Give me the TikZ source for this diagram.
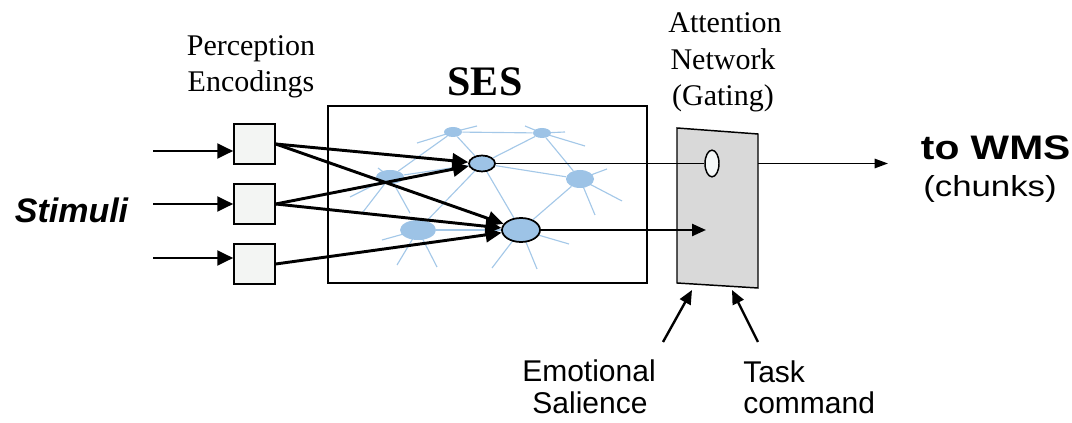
\documentclass[tikz,border=0pt]{standalone}
\usepackage{fontspec}
\usepackage{graphicx}
\setmainfont{Liberation Serif}
\setsansfont{Liberation Sans}
\usetikzlibrary{arrows.meta,shapes.geometric,backgrounds}
\definecolor{nodeblue}{HTML}{9DC3E6}
\definecolor{linkblue}{HTML}{A4C8E8}
\definecolor{gategray}{HTML}{D9D9D9}
\definecolor{boxfill}{HTML}{F3F5F3}
\definecolor{gateoval}{HTML}{F5F8F8}
\begin{document}
\begin{tikzpicture}[x=0.75pt,y=-0.75pt,
  serif/.style={font=\fontsize{22.5}{27}\selectfont, anchor=base, inner sep=0pt},
  sans/.style={font=\fontsize{22.5}{27}\selectfont\sffamily, anchor=base, inner sep=0pt},
  encbox/.style={draw, line width=1.1pt, fill=boxfill, minimum width=30.75pt, minimum height=30pt, inner sep=0pt},
  blob/.style={ellipse, fill=nodeblue, inner sep=0pt},
  hub/.style={ellipse, fill=nodeblue, draw, line width=1.3pt, inner sep=0pt},
  link/.style={draw=linkblue, line width=0.85pt},
  bigarrow/.style={line width=2.2pt, -{Triangle[length=12pt,width=11pt]}},
  midarrow/.style={line width=1.8pt, -{Triangle[length=10.5pt,width=9pt]}},
  thinarrow/.style={line width=1.3pt, -{Triangle[length=10pt,width=7pt]}}
]
\useasboundingbox (0,0) rectangle (1072,423);

% titles
\node[serif] (perc1) at (251,56) {Perception};
\node[serif] (perc2) at (251,92) {Encodings};
\node[serif, font=\fontsize{31.5}{34}\selectfont\bfseries] (sestitle) at (485,96) {SES};
\node[serif] (att1) at (725,33) {Attention};
\node[serif] (att2) at (723,70) {Network};
\node[serif] (att3) at (723,106) {(Gating)};

% stimuli
\node[sans, font=\fontsize{25.5}{28}\selectfont\sffamily\bfseries\itshape] (stim) at (71.5,222.3) {Stimuli};

% output labels
\node[sans, font=\fontsize{25.5}{28}\selectfont\sffamily\bfseries] (wms) at (995.7,160) {\scalebox{1.2}[1]{to WMS}};
\node[sans, font=\fontsize{21.75}{26}\selectfont\sffamily] (chunks) at (990,197) {\scalebox{1.2}[1]{(chunks)}};

% bottom labels
\node[sans] (emo1) at (589,381.7) {Emotional};
\node[sans] (emo2) at (590,413.3) {Salience};
\node[sans, anchor=base west] (task1) at (743,382.3) {Task};
\node[sans, anchor=base west] (task2) at (743,413.3) {command};

% SES box
\node[draw, line width=1.1pt, minimum width=239.25pt, minimum height=132.75pt, inner sep=0pt] (ses) at (487.5,194.5) {};

% encoding boxes
\node[encbox] (b1) at (254.5,144) {};
\node[encbox] (b2) at (254.5,204) {};
\node[encbox] (b3) at (254.5,264) {};

% network nodes
\node[blob, minimum width=13.5pt, minimum height=7.5pt] (tl) at (453,132) {};
\node[blob, minimum width=13.5pt, minimum height=7.5pt] (tr) at (542,133) {};
\node[blob, minimum width=21pt, minimum height=10.5pt] (ml) at (390,177) {};
\node[blob, minimum width=21pt, minimum height=13.5pt] (mr) at (580,179) {};
\node[blob, minimum width=27pt, minimum height=15pt] (bl) at (418,230) {};
\node[hub, minimum width=19.5pt, minimum height=12pt] (hub1) at (482,163.5) {};
\node[hub, minimum width=28.5pt, minimum height=18pt] (hub2) at (521,230) {};

\begin{scope}[on background layer]
  \path[link] (tl) -- (tr);
  \path[link] (tl) -- (hub1);
  \path[link] (tl) -- (ml);
  \path[link] (tr) -- (hub1);
  \path[link] (tr) -- (mr);
  \path[link] (hub1) -- (mr);
  \path[link] (hub1) -- (hub2);
  \path[link] (hub1) -- (bl);
  \path[link] (hub1) -- (ml);
  \path[link] (bl) -- (hub2);
  \path[link] (mr) -- (hub2);
  % stubs
  \path[link] (tl.center) -- ++(-36,11);
  \path[link] (tl.center) -- ++(24,-6);
  \path[link] (tr.center) -- ++(23,-1);
  \path[link] (tr.center) -- ++(43,13);
  \path[link] (tr.center) -- ++(-17,-7);
  \path[link] (ml.center) -- ++(-40,20);
  \path[link] (ml.center) -- ++(-27,35);
  \path[link] (ml.center) -- ++(20,36);
  \path[link] (ml.center) -- ++(-12,-9);
  \path[link] (mr.center) -- ++(27,-10);
  \path[link] (mr.center) -- ++(42,22);
  \path[link] (mr.center) -- ++(15,36);
  \path[link] (bl.center) -- ++(-36,10);
  \path[link] (bl.center) -- ++(-21,35);
  \path[link] (bl.center) -- ++(19,37);
  \path[link] (hub2.center) -- ++(-29,38);
  \path[link] (hub2.center) -- ++(16,39);
  \path[link] (hub2.center) -- ++(48,14);
\end{scope}

% gate
\coordinate (g1) at (677,128);
\coordinate (g2) at (758,134);
\coordinate (g3) at (758,288);
\coordinate (g4) at (677,283);
\draw[line width=1.1pt, fill=gategray] (g1) -- (g2) -- (g3) -- (g4) -- cycle;
\node[ellipse, draw, line width=1.1pt, fill=gateoval, minimum width=10.5pt, minimum height=20pt, inner sep=0pt] (gel) at (712,163.5) {};

% inputs
\coordinate (in1) at (153,151);
\coordinate (in2) at (153,204);
\coordinate (in3) at (153,258);
\draw[bigarrow] (in1) -- (in1 -| b1.west);
\draw[bigarrow] (in2) -- (in2 -| b2.west);
\draw[bigarrow] (in3) -- (in3 -| b3.west);

% encodings to SES hubs
\draw[bigarrow] (b1.east) -- (hub1);
\draw[bigarrow] (b1.east) -- (hub2);
\draw[bigarrow] (b2.east) -- (hub1);
\draw[bigarrow] (b2.east) -- (hub2);
\draw[bigarrow] (b3.east) -- (hub2);

% hubs to gate
\draw[line width=1.3pt] (hub1) -- (gel);
\coordinate (gin) at (706,230);
\draw[midarrow] (hub2) -- (gin);

% gate to WMS
\coordinate (gout) at (758,163.5);
\coordinate (wmsend) at (888,163.5);
\draw[thinarrow] (gout) -- (wmsend);

% control inputs
\coordinate (es) at (663,342);
\coordinate (esend) at (692,290);
\coordinate (ts) at (758,342);
\coordinate (tsend) at (732,290);
\draw[midarrow] (es) -- (esend);
\draw[midarrow] (ts) -- (tsend);
\end{tikzpicture}
\end{document}
